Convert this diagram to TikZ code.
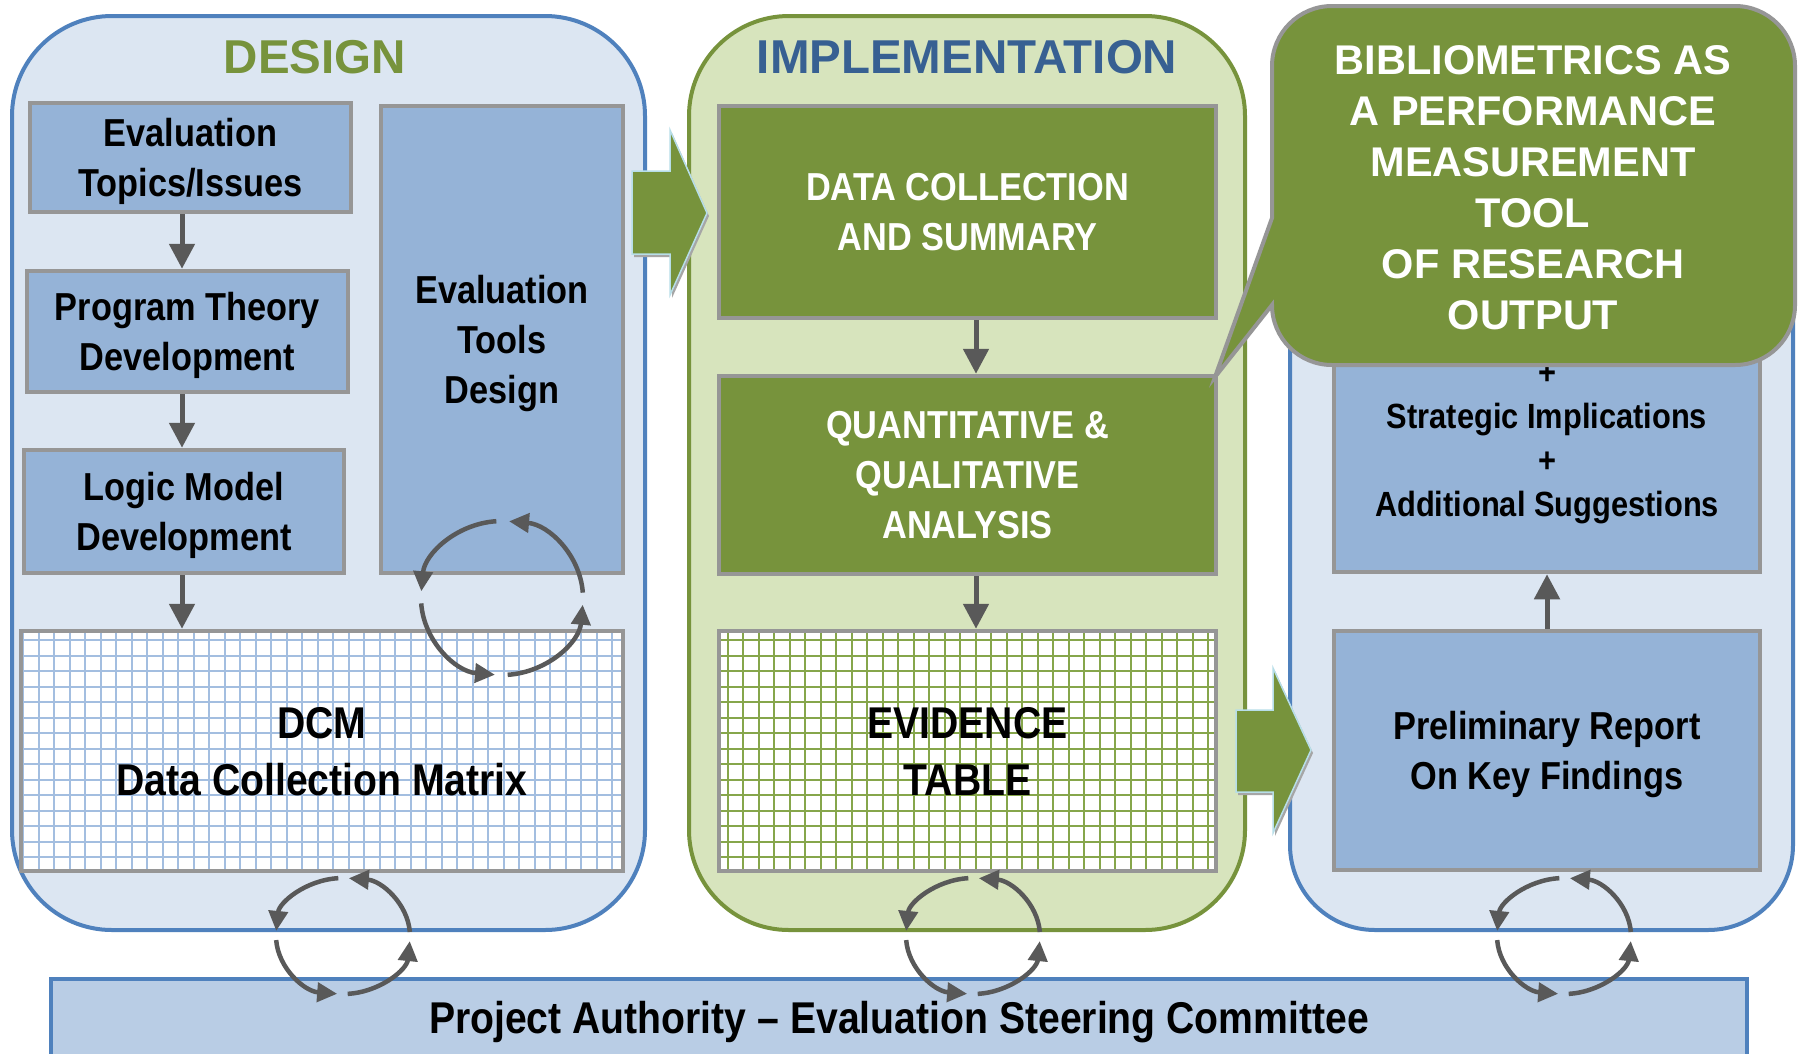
\documentclass[tikz,border=0pt]{standalone}
\usepackage{fontspec}
\setmainfont{Liberation Sans}
\newfontfamily\narrowfont[FakeStretch=0.88]{Liberation Sans}
\usetikzlibrary{arrows.meta,calc,positioning}

\definecolor{panelblue}{HTML}{DCE6F2}
\definecolor{panelgreen}{HTML}{D7E4BD}
\definecolor{lineblue}{HTML}{4F81BD}
\definecolor{linegreen}{HTML}{77933C}
\definecolor{boxblue}{HTML}{95B3D7}
\definecolor{boxgreen}{HTML}{77933C}
\definecolor{boxline}{HTML}{969696}
\definecolor{barblue}{HTML}{B9CDE5}
\definecolor{arrowgrey}{HTML}{595959}
\definecolor{titleblue}{HTML}{376092}
\definecolor{arrowedge}{HTML}{B7DEE8}
\definecolor{gridblue}{HTML}{A3BEE0}
\definecolor{gridgreen}{HTML}{86A64B}

\begin{document}
\begin{tikzpicture}[x=1pt,y=-1pt,
    panel/.style={line width=4pt, rounded corners=100pt, inner sep=0pt, minimum height=914pt},
    bluebox/.style={draw=boxline, fill=boxblue, line width=4.5pt, inner sep=0pt, align=center, text depth=0pt,
        font=\narrowfont\bfseries\fontsize{39}{50}\selectfont},
    greenbox/.style={bluebox, fill=boxgreen, text=white},
    gridbox/.style={draw=boxline, fill=white, line width=4.5pt, inner sep=0pt, align=center, text depth=0pt,
        font=\narrowfont\bfseries\fontsize{44.5}{57}\selectfont,
        path picture={\draw[#1, line width=2pt] (path picture bounding box.south west) grid[step=15.5pt] (path picture bounding box.north east);}},
    paneltitle/.style={anchor=base, font=\bfseries\fontsize{47.5}{57}\selectfont},
    flow/.style={draw=arrowgrey, line width=5pt, -{Triangle[length=25pt,width=25pt]}},
    cyclearrow/.style={draw=arrowgrey, line width=4.5pt, -{Triangle[length=20pt,width=19pt]}},
    blockarrow/.style={fill=boxgreen, draw=arrowedge, line width=1.5pt},
    callout/.style={fill=boxgreen, draw=boxline, line width=4pt}]

  \fill[white] (0,0) rectangle (1798,1053);
  \useasboundingbox (0,0) rectangle (1798,1053);

  % the three phases
  \node[panel, draw=lineblue, fill=panelblue, minimum width=633pt] (design) at (328.5,473) {};
  \node[panel, draw=linegreen, fill=panelgreen, minimum width=556pt] (impl) at (967,473) {};
  \node[panel, draw=lineblue, fill=panelblue, minimum width=503pt, rounded corners=85pt] (results) at (1541.5,473) {};
  \node[paneltitle, text=linegreen] (designtitle) at (315,73) {DESIGN};
  \node[paneltitle, text=titleblue] (impltitle) at (967,73) {IMPLEMENTATION};

  \node[draw=lineblue, fill=barblue, line width=4pt, inner sep=0pt, minimum width=1696pt, minimum height=86pt,
    font=\narrowfont\bfseries\fontsize{44.5}{57}\selectfont] (authority) at (899,1022)
    {Project Authority – Evaluation Steering Committee};

  % design
  \node[bluebox, minimum width=321pt, minimum height=109pt] (evtopics) at (190.5,157.5) {Evaluation\\Topics/Issues};
  \node[bluebox, minimum width=321pt, minimum height=121pt] (progtheory) at (187.5,331.5) {Program Theory\\Development};
  \node[bluebox, minimum width=320pt, minimum height=123pt] (logicmodel) at (184,511.5) {Logic Model\\Development};
  \node[bluebox, minimum width=242pt, minimum height=467pt] (toolsdesign) at (502,339.5) {Evaluation\\Tools\\Design};
  \node[gridbox=gridblue, minimum width=602pt, minimum height=240pt] (dcm) at (322,751) {DCM\\Data Collection Matrix};

  % implementation
  \node[greenbox, minimum width=497pt, minimum height=212pt] (datacoll) at (967.5,212) {DATA COLLECTION\\AND SUMMARY};
  \node[greenbox, minimum width=497pt, minimum height=198pt] (analysis) at (967.5,475) {QUANTITATIVE \&\\QUALITATIVE\\ANALYSIS};
  \node[gridbox=gridgreen, minimum width=497pt, minimum height=240pt] (evidence) at (967.5,751) {EVIDENCE\\TABLE};

  % reporting
  \node[bluebox, minimum width=426pt, minimum height=467pt] (implications) at (1547,338.5) {};
  \node[font=\narrowfont\bfseries\fontsize{35}{44}\selectfont, align=center] (implicationstext) at (1547,442)
    {\strut+\\Strategic Implications\\+\\Additional Suggestions\strut};
  \node[bluebox, minimum width=426pt, minimum height=239pt] (prelim) at (1547,750.5) {Preliminary Report\\On Key Findings};

  \coordinate (leftaxis) at (182,0);
  \coordinate (implaxis) at (976,0);
  \draw[flow] (evtopics.south -| leftaxis) -- (progtheory.north -| leftaxis);
  \draw[flow] (progtheory.south -| leftaxis) -- (logicmodel.north -| leftaxis);
  \draw[flow] (logicmodel.south -| leftaxis) -- (dcm.north -| leftaxis);
  \draw[flow] (datacoll.south -| implaxis) -- (analysis.north -| implaxis);
  \draw[flow] (analysis.south -| implaxis) -- (evidence.north -| implaxis);
  \draw[flow] (prelim.north) -- (implications.south);

  % block arrows between phases
  \fill[black!35, shift={(2,3)}] (632,171) -- (670,171) -- (670,130) -- (707,213) -- (670,295) -- (670,254) -- (632,254) -- cycle;
  \draw[blockarrow] (632,171) -- (670,171) -- (670,130) -- (707,213) -- (670,295) -- (670,254) -- (632,254) -- cycle;
  \fill[black!35, shift={(2,3)}] (1236,710) -- (1273,710) -- (1273,668) -- (1311,750) -- (1273,833) -- (1273,792) -- (1236,792) -- cycle;
  \draw[blockarrow] (1236,710) -- (1273,710) -- (1273,668) -- (1311,750) -- (1273,833) -- (1273,792) -- (1236,792) -- cycle;

  % callout
  \draw[callout] (1272,218) -- (1272,66) arc[start angle=180, end angle=270, radius=60]
    -- (1735,6) arc[start angle=270, end angle=360, radius=60]
    -- (1795,305) arc[start angle=0, end angle=90, radius=60]
    -- (1332,365) arc[start angle=90, end angle=180, radius=60]
    -- (1215,377) -- cycle;
  \node[font=\bfseries\fontsize{41.5}{51}\selectfont, text=white, align=center] (biblio) at (1533,188)
    {BIBLIOMETRICS AS\\A PERFORMANCE\\MEASUREMENT\\TOOL\\OF RESEARCH\\OUTPUT};

  % feedback cycles
  \coordinate (toolscycle) at (502,598);
  \coordinate (designcycle) at (343,936);
  \coordinate (implcycle) at (973,936);
  \coordinate (resultcycle) at (1564,936);
  \foreach \a in {270,180,90,360}
    \draw[cyclearrow] ([shift={(\a-4:81 and 77)}]toolscycle) arc[start angle=\a-4, end angle=\a-85, x radius=81, y radius=77];
  \foreach \c in {designcycle,implcycle,resultcycle}
    \foreach \a in {270,180,90,360}
      \draw[cyclearrow] ([shift={(\a-4:67 and 58)}]\c) arc[start angle=\a-4, end angle=\a-85, x radius=67, y radius=58];
\end{tikzpicture}
\end{document}
